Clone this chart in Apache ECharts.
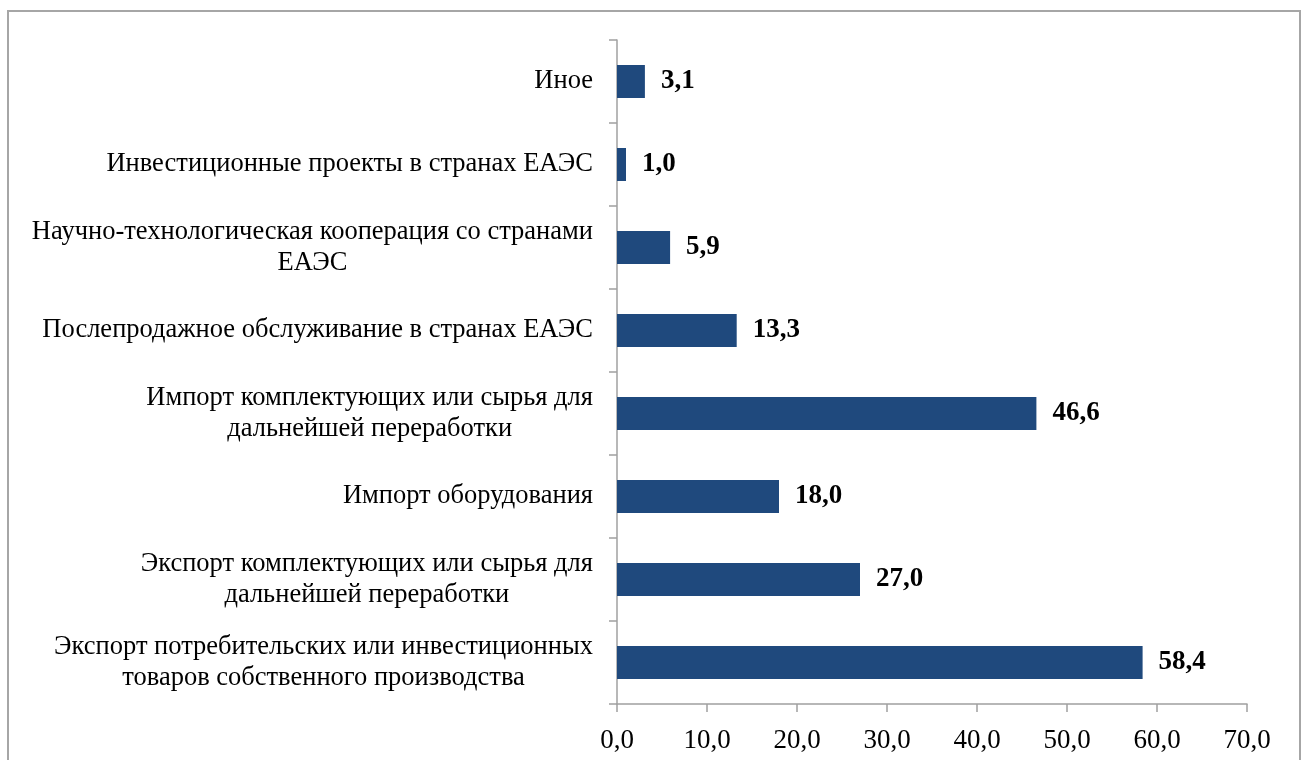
<!DOCTYPE html>
<html>
<head>
<meta charset="utf-8">
<script src="https://cdn.jsdelivr.net/npm/echarts@6/dist/echarts.min.js"></script>
<style>
html,body{margin:0;padding:0;background:#fff;}
#chart{width:1303px;height:760px;}
</style>
</head>
<body>
<div id="chart"></div>
<script>
// Categories from bottom to top
var categories = [
  'Экспорт потребительских или инвестиционных\nтоваров собственного производства',
  'Экспорт комплектующих или сырья для\nдальнейшей переработки',
  'Импорт оборудования',
  'Импорт комплектующих или сырья для\nдальнейшей переработки',
  'Послепродажное обслуживание в странах ЕАЭС',
  'Научно-технологическая кооперация со странами\nЕАЭС',
  'Инвестиционные проекты в странах ЕАЭС',
  'Иное'
];
var values = [58.4, 27.0, 18.0, 46.6, 13.3, 5.9, 1.0, 3.1];
var xTicks = [0, 10, 20, 30, 40, 50, 60, 70];

var fmt = function (v) { return Number(v).toFixed(1).replace('.', ','); };
var chart = echarts.init(document.getElementById('chart'));
var font = '"Liberation Serif", "Times New Roman", serif';
chart.setOption({
  animation: false,
  backgroundColor: '#fff',
  graphic: [{
    type: 'rect',
    shape: { x: 8, y: 11, width: 1292, height: 800 },
    style: { fill: 'none', stroke: '#a6a6a6', lineWidth: 2 },
    silent: true
  }],
  grid: { left: 617, right: 56, top: 40, bottom: 56, containLabel: false },
  xAxis: {
    type: 'value',
    min: xTicks[0],
    max: xTicks[xTicks.length - 1],
    interval: 10,
    axisLine: { show: true, lineStyle: { color: '#a0a0a0', width: 1.5 } },
    axisTick: { show: true, length: 8, lineStyle: { color: '#a0a0a0', width: 1.5 } },
    splitLine: { show: false },
    axisLabel: {
      formatter: fmt, margin: 23,
      fontFamily: font, fontSize: 27, color: '#000'
    }
  },
  yAxis: {
    type: 'category',
    data: categories,
    axisLine: { show: true, lineStyle: { color: '#a0a0a0', width: 1.5 } },
    axisTick: { show: true, length: 8, alignWithLabel: false, lineStyle: { color: '#a0a0a0', width: 1.5 } },
    axisLabel: {
      margin: 24,
      fontFamily: font, fontSize: 26.5, color: '#000', lineHeight: 31,
      formatter: function (v) {
        return v.split('\n').map(function (l) { return '{c|' + l + '}'; }).join('\n');
      },
      rich: { c: { align: 'center', fontFamily: font, fontSize: 26.5, color: '#000', lineHeight: 31 } }
    }
  },
  series: [{
    type: 'bar',
    data: values,
    barWidth: 33,
    itemStyle: { color: '#1f497d' },
    label: {
      show: true, position: 'right', distance: 16,
      formatter: function (p) { return fmt(p.value); },
      fontFamily: font, fontSize: 27, fontWeight: 'bold', color: '#000'
    }
  }]
});
</script>
</body>
</html>
